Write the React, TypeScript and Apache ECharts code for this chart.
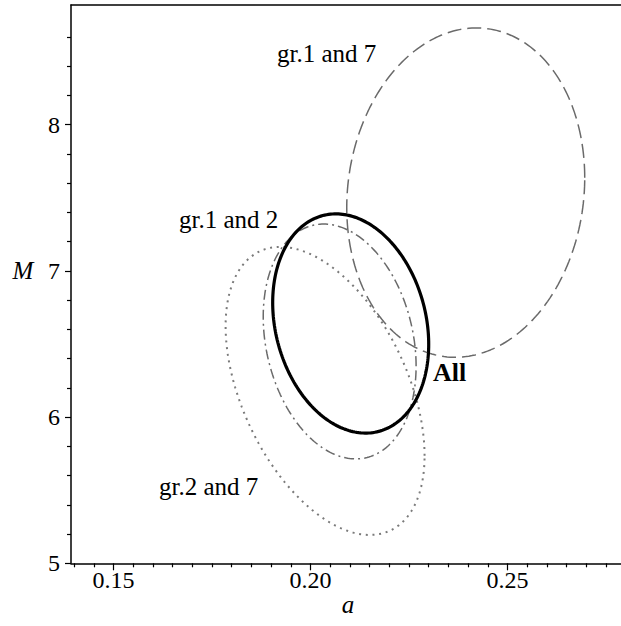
import React, { useEffect, useRef } from "react";
import * as echarts from "echarts";

// Confidence ellipses: centre, half-extent along a, half-extent along M, correlation
const ellipseNames = ["gr.2 and 7", "gr.1 and 2", "gr.1 and 7", "All"];
const centerA = [0.2037, 0.2074, 0.2394, 0.2102];
const centerM = [6.179, 6.517, 7.535, 6.64];
const halfWidthA = [0.02525, 0.0194, 0.0302, 0.0198];
const halfHeightM = [0.985, 0.803, 1.126, 0.7495];
const correlation = [-0.45, -0.21, 0.09, -0.19];

const xMajorTicks = [0.15, 0.2, 0.25];
const xMinorTicks = [
  0.14, 0.145, 0.155, 0.16, 0.165, 0.17, 0.175, 0.18, 0.185, 0.19, 0.195, 0.205,
  0.21, 0.215, 0.22, 0.225, 0.23, 0.235, 0.24, 0.245, 0.255, 0.26, 0.265, 0.27, 0.275,
];
const yMajorTicks = [5, 6, 7, 8];
const yMinorTicks = [5.2, 5.4, 5.6, 5.8, 6.2, 6.4, 6.6, 6.8, 7.2, 7.4, 7.6, 7.8, 8.2, 8.4, 8.6];

const X_MIN = 0.13921;
const X_MAX = 0.28;
const Y_MIN = 5;
const Y_MAX = 8.818;

const SERIF = "Liberation Serif";

function ellipsePoints(i: number): number[][] {
  const pts: number[][] = [];
  const n = 240;
  const r = correlation[i];
  const s = Math.sqrt(1 - r * r);
  for (let k = 0; k <= n; k++) {
    const t = (2 * Math.PI * k) / n;
    pts.push([
      centerA[i] + halfWidthA[i] * Math.cos(t),
      centerM[i] + halfHeightM[i] * (r * Math.cos(t) + s * Math.sin(t)),
    ]);
  }
  return pts;
}

const lineStyles: any[] = [
  { color: "#7a7a7a", width: 2, type: [2, 4.7] },
  { color: "#6a6a6a", width: 1.5, type: [10, 4, 2, 4] },
  { color: "#6a6a6a", width: 1.5, type: [14, 6] },
  { color: "#000000", width: 3.2, type: "solid" },
];

function txt(text: string, x: number, y: number, font: string, align = "left") {
  return {
    type: "text",
    x,
    y,
    style: { text, font, fill: "#000", align, verticalAlign: "middle" },
  };
}

export default function App() {
  const ref = useRef<HTMLDivElement>(null);
  useEffect(() => {
    if (!ref.current) return;
    const chart = echarts.init(ref.current, undefined, { renderer: "svg" });
    const axisLineStyle = { color: "#000", width: 1.5 };
    chart.setOption({
      animation: false,
      backgroundColor: "#ffffff",
      grid: { left: 71, top: 5, right: 660 - 625.7, bottom: 626 - 563.3, containLabel: false },
      xAxis: [
        {
          type: "value",
          min: X_MIN,
          max: X_MAX,
          position: "bottom",
          axisLine: { show: true, onZero: false, lineStyle: axisLineStyle },
          axisTick: { show: true, customValues: xMajorTicks, length: 7, lineStyle: { color: "#000", width: 1.2 } },
          axisLabel: {
            show: true,
            customValues: xMajorTicks,
            formatter: (v: number) => v.toFixed(2),
            fontFamily: SERIF,
            fontSize: 24,
            color: "#000",
            margin: 5,
          },
          splitLine: { show: false },
        },
        {
          type: "value",
          min: X_MIN,
          max: X_MAX,
          position: "bottom",
          axisLine: { show: false, onZero: false },
          axisTick: { show: true, customValues: xMinorTicks, length: 4, lineStyle: { color: "#000", width: 1.2 } },
          axisLabel: { show: false },
          splitLine: { show: false },
        },
        {
          type: "value",
          min: X_MIN,
          max: X_MAX,
          position: "top",
          axisLine: { show: true, onZero: false, lineStyle: axisLineStyle },
          axisTick: { show: false },
          axisLabel: { show: false },
          splitLine: { show: false },
        },
      ],
      yAxis: [
        {
          type: "value",
          min: Y_MIN,
          max: Y_MAX,
          position: "left",
          axisLine: { show: true, onZero: false, lineStyle: axisLineStyle },
          axisTick: { show: true, customValues: yMajorTicks, length: 6, lineStyle: { color: "#000", width: 1.2 } },
          axisLabel: {
            show: true,
            customValues: yMajorTicks,
            fontFamily: SERIF,
            fontSize: 24,
            color: "#000",
            margin: 11,
          },
          splitLine: { show: false },
        },
        {
          type: "value",
          min: Y_MIN,
          max: Y_MAX,
          position: "left",
          axisLine: { show: false, onZero: false },
          axisTick: { show: true, customValues: yMinorTicks, length: 4, lineStyle: { color: "#000", width: 1.2 } },
          axisLabel: { show: false },
          splitLine: { show: false },
        },
      ],
      series: ellipseNames.map((name, i) => ({
        name,
        type: "line",
        xAxisIndex: 0,
        yAxisIndex: 0,
        data: ellipsePoints(i),
        showSymbol: false,
        symbol: "none",
        smooth: false,
        clip: true,
        lineStyle: lineStyles[i],
        z: 2 + i,
      })),
      graphic: [
        txt("M", 23, 270, `italic 25px ${SERIF}`, "center"),
        txt("a", 348, 604, `italic 25px ${SERIF}`, "center"),
        txt("gr.1 and 7", 277, 53, `25px ${SERIF}`),
        txt("gr.1 and 2", 179, 219, `25px ${SERIF}`),
        txt("All", 433, 372, `bold 26px ${SERIF}`),
        txt("gr.2 and 7", 159, 486, `25px ${SERIF}`),
      ],
    });
    return () => chart.dispose();
  }, []);
  return (
    <div
      style={{
        position: "absolute",
        left: 0,
        top: 0,
        width: 621,
        height: 626,
        overflow: "hidden",
        background: "#fff",
      }}
    >
      <div ref={ref} style={{ width: 660, height: 626 }} />
    </div>
  );
}
